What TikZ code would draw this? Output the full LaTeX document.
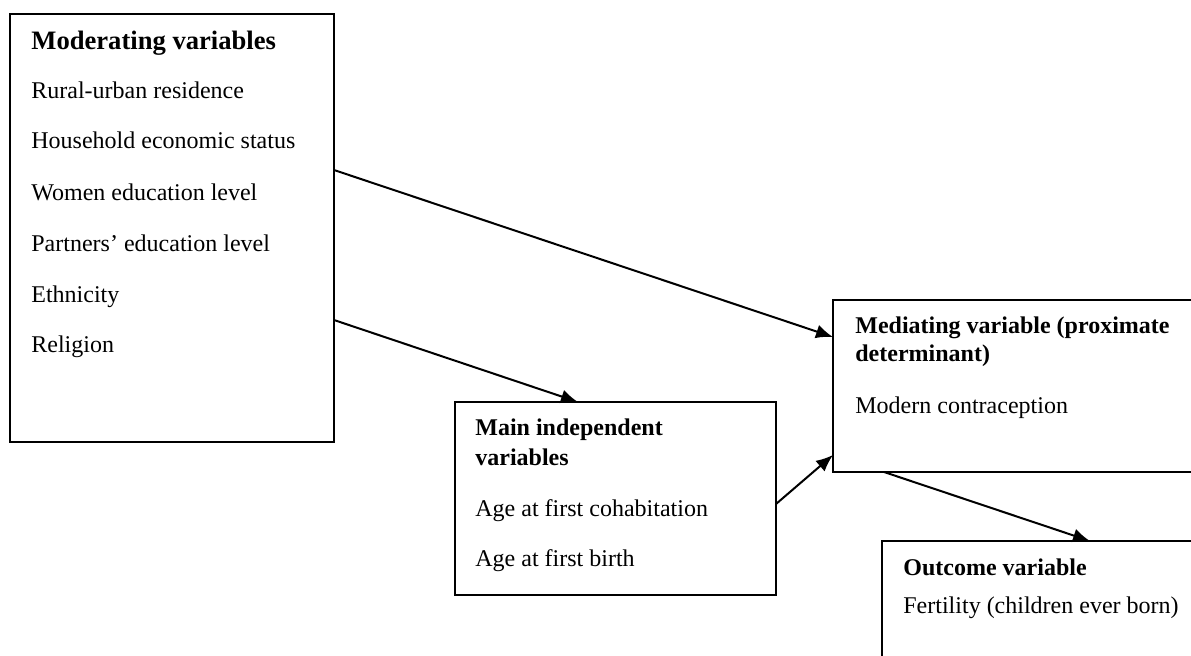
\documentclass[tikz,border=0pt]{standalone}
\usepackage{fontspec}
\setmainfont{Liberation Serif}
\usetikzlibrary{arrows.meta}

\begin{document}
\begin{tikzpicture}[x=0.5pt,y=-0.5pt,>={Latex[length=8.5pt,width=7pt]},font=\fontsize{12}{14}\selectfont]
\tikzstyle{box}=[draw,line width=0.8pt,rectangle,anchor=north west,inner sep=0pt,outer sep=0pt]
\tikzstyle{txt}=[anchor=base west,inner sep=0pt]
\tikzstyle{head}=[txt,font=\fontsize{12}{14}\selectfont\bfseries]
\tikzstyle{link}=[->,line width=1pt]
\useasboundingbox (0,0) rectangle (1191,655);
\clip (0,0) rectangle (1191,655);

% boxes
\node[box,minimum width=162pt,minimum height=214pt]  (mod) at (10,14)  {};
\node[box,minimum width=160.5pt,minimum height=96.5pt] (ind) at (455,402) {};
\node[box,minimum width=195pt,minimum height=86pt]   (med) at (833,300) {};
\node[box,minimum width=170pt,minimum height=75pt]   (out) at (882,541) {};

% moderating variables
\node[head,font=\fontsize{13.3}{16}\selectfont\bfseries] (modT) at (31,49) {Moderating variables};
\node[txt]  (mod1) at (31,98)  {Rural-urban residence};
\node[txt]  (mod2) at (31,148) {Household economic status};
\node[txt]  (mod3) at (31,200) {Women education level};
\node[txt]  (mod4) at (31,251) {Partners’ education level};
\node[txt]  (mod5) at (31,302) {Ethnicity};
\node[txt]  (mod6) at (31,352) {Religion};

% main independent variables
\node[head] (indT)  at (475,435) {Main independent};
\node[head] (indT2) at (475,465) {variables};
\node[txt]  (ind1)  at (475,516) {Age at first cohabitation};
\node[txt]  (ind2)  at (475,566) {Age at first birth};

% mediating variable
\node[head] (medT)  at (855,333) {Mediating variable (proximate};
\node[head] (medT2) at (855,361) {determinant)};
\node[txt]  (med1)  at (855,413) {Modern contraception};

% outcome variable
\node[head] (outT) at (903,575) {Outcome variable};
\node[txt]  (out1) at (903,613) {Fertility (children ever born)};

\path[link]
(mod.north east |- 0,170) edge (med.north west |- 0,337)
(mod.north east |- 0,320) edge (ind.north west -| 578,0)
(ind.north east |- 0,504) edge (med.north west |- 0,455)
(med.south west -| 884,0) edge (out.north west -| 1090,0);
\end{tikzpicture}
\end{document}
